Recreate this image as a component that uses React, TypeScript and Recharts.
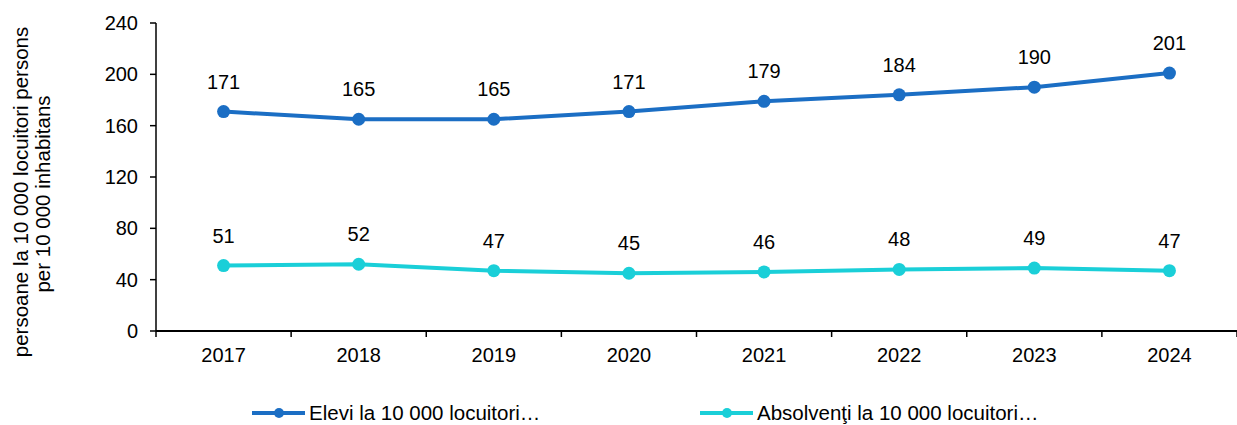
import { LineChart, Line, XAxis, YAxis, LabelList, Legend } from 'recharts'

const years = ['2017', '2018', '2019', '2020', '2021', '2022', '2023', '2024']
const elevi = [171, 165, 165, 171, 179, 184, 190, 201]
const absolventi = [51, 52, 47, 45, 46, 48, 49, 47]
const yTicks = [0, 40, 80, 120, 160, 200, 240]

const BLUE = '#1B6EC4'
const CYAN = '#1ACFD8'
const FONT = '"Liberation Sans", Arial, sans-serif'

const W = 1237
const H = 425
const LEFT = 156
const BAND = (W - LEFT) / years.length

const data = years.map((year, i) => ({ year, elevi: elevi[i], absolventi: absolventi[i] }))

function XTick(props: any) {
  const { x, y, payload, index } = props
  return (
    <g>
      <line x1={x - BAND / 2} y1={y} x2={x - BAND / 2} y2={y + 6} stroke="#000" strokeWidth={1.5} />
      {index === years.length - 1 && (
        <line x1={x + BAND / 2} y1={y} x2={x + BAND / 2} y2={y + 6} stroke="#000" strokeWidth={1.5} />
      )}
      <text x={x} y={y + 31} textAnchor="middle" fontSize={20} fill="#000" fontFamily={FONT}>
        {payload.value}
      </text>
    </g>
  )
}

function YTitle() {
  return (
    <g fontFamily={FONT} fontSize={20.5} fill="#000">
      <text x={28} y={192} textAnchor="middle" transform="rotate(-90 28 192)">
        persoane la 10 000 locuitori persons
      </text>
      <text x={50} y={194} textAnchor="middle" transform="rotate(-90 50 194)">
        per 10 000 inhabitans
      </text>
    </g>
  )
}

function LegendBox() {
  const items = [
    { name: 'Elevi la 10 000 locuitori…', color: BLUE, x: 252 },
    { name: 'Absolvenţi la 10 000 locuitori…', color: CYAN, x: 700 },
  ]
  return (
    <svg width={W} height={24} style={{ display: 'block' }}>
      {items.map((it) => (
        <g key={it.name}>
          <line x1={it.x} y1={12} x2={it.x + 53} y2={12} stroke={it.color} strokeWidth={4} />
          <circle cx={it.x + 27} cy={12} r={5} fill={it.color} />
          <text x={it.x + 57} y={19} fontSize={20.5} fontFamily={FONT} fill="#000">
            {it.name}
          </text>
        </g>
      ))}
    </svg>
  )
}

export default function App() {
  return (
    <div style={{ position: 'absolute', left: 0, top: 0, width: W, height: H, background: '#fff' }}>
      <LineChart width={W} height={H} data={data} margin={{ top: 23, right: 0, left: 0, bottom: 0 }}>
        <XAxis
          dataKey="year"
          axisLine={{ stroke: '#000', strokeWidth: 2 }}
          tickLine={false}
          tickSize={0}
          tickMargin={0}
          height={70}
          padding={{ left: BAND / 2, right: BAND / 2 }}
          tick={<XTick />}
          interval={0}
        />
        <YAxis
          domain={[0, 240]}
          ticks={yTicks}
          width={LEFT}
          axisLine={{ stroke: '#000', strokeWidth: 1.5 }}
          tickLine={{ stroke: '#000', strokeWidth: 1.5 }}
          tickSize={6}
          tickMargin={12}
          tick={{ fontSize: 20, fill: '#000', fontFamily: FONT }}
          label={{ content: <YTitle /> }}
        />
        <Legend verticalAlign="bottom" height={24} content={<LegendBox />} />
        <Line
          type="linear"
          dataKey="elevi"
          stroke={BLUE}
          strokeWidth={4}
          dot={{ r: 6.5, fill: BLUE, stroke: BLUE, strokeWidth: 0 }}
          isAnimationActive={false}
        >
          <LabelList dataKey="elevi" position="top" offset={23} fontSize={20} fill="#000" fontFamily={FONT} />
        </Line>
        <Line
          type="linear"
          dataKey="absolventi"
          stroke={CYAN}
          strokeWidth={4}
          dot={{ r: 6.5, fill: CYAN, stroke: CYAN, strokeWidth: 0 }}
          isAnimationActive={false}
        >
          <LabelList dataKey="absolventi" position="top" offset={23} fontSize={20} fill="#000" fontFamily={FONT} />
        </Line>
      </LineChart>
    </div>
  )
}
